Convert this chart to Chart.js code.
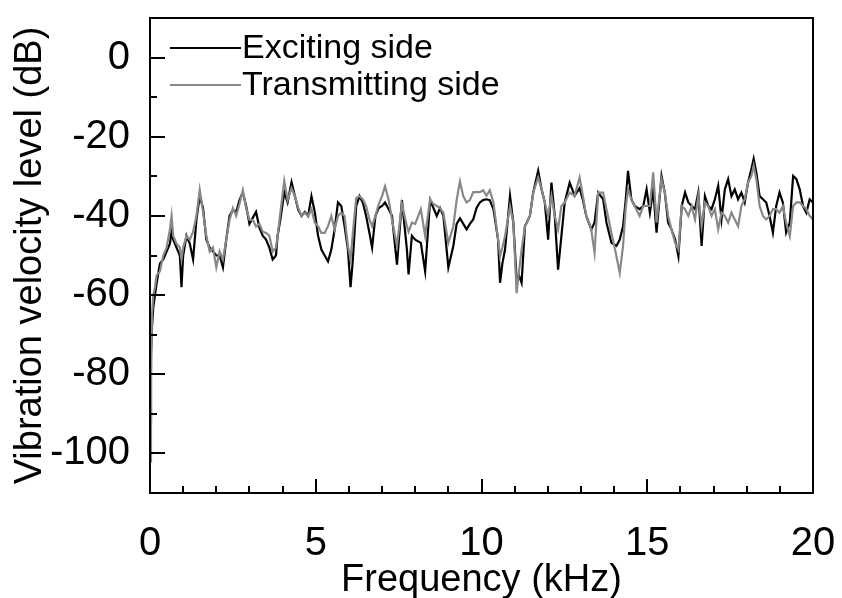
<!DOCTYPE html>
<html>
<head>
<meta charset="utf-8">
<script src="https://cdn.jsdelivr.net/npm/chart.js@4.4.1/dist/chart.umd.min.js"></script>
<style>
  html, body { margin: 0; padding: 0; background: #fff; }
  #wrap { width: 842px; height: 598px; }
</style>
</head>
<body>
<div id="wrap"><canvas id="spectrum" width="842" height="598"></canvas></div>
<script>
// frequency (kHz)
var freq = [
  0, 0.03, 0.06, 0.1, 0.15, 0.2, 0.3, 0.4, 0.5, 0.6, 0.65, 0.7, 0.8, 0.9, 0.95, 1.0,
  1.1, 1.2, 1.3, 1.4, 1.5, 1.6, 1.7, 1.8, 1.9, 2.0,
  2.1, 2.2, 2.3, 2.4, 2.5, 2.6, 2.7, 2.8, 2.9, 3.0,
  3.1, 3.2, 3.3, 3.4, 3.5, 3.6, 3.7, 3.8, 3.85, 3.95,
  4.05, 4.15, 4.27, 4.37, 4.47, 4.57, 4.67, 4.77, 4.87, 4.97,
  5.07, 5.17, 5.27, 5.37, 5.47, 5.57, 5.67, 5.77, 5.87, 5.97,
  6.05, 6.12, 6.22, 6.32, 6.42, 6.52, 6.62, 6.7, 6.8, 6.9,
  7.0, 7.09, 7.2, 7.3, 7.45, 7.6, 7.75, 7.8, 7.9, 8.0,
  8.17, 8.3, 8.45, 8.55, 8.65, 8.75, 8.85, 9.0, 9.15, 9.25,
  9.35, 9.45, 9.55, 9.65, 9.75, 9.85, 9.95, 10.05, 10.15, 10.25,
  10.36, 10.5, 10.56, 10.63, 10.71, 10.86, 10.96, 11.06, 11.13, 11.21,
  11.31, 11.46, 11.56, 11.71, 11.81, 11.91, 12.01, 12.11, 12.21, 12.31,
  12.41, 12.51, 12.66, 12.81, 12.96, 13.06, 13.16, 13.31, 13.41, 13.52,
  13.67, 13.77, 13.92, 14.07, 14.17, 14.27, 14.35, 14.42, 14.52, 14.62,
  14.77, 14.88, 14.98, 15.08, 15.18, 15.28, 15.43, 15.53, 15.63, 15.73,
  15.84, 15.94, 16.04, 16.14, 16.24, 16.34, 16.44, 16.54, 16.64, 16.74,
  16.84, 16.94, 17.04, 17.14, 17.24, 17.34, 17.44, 17.54, 17.64, 17.74,
  17.84, 17.94, 18.04, 18.14, 18.21, 18.29, 18.39, 18.49, 18.59, 18.69,
  18.79, 18.89, 18.99, 19.09, 19.19, 19.3, 19.4, 19.5, 19.6, 19.7,
  19.8, 19.9, 20.0
];

// Exciting side (dB)
var exciting = [
  -92, -75, -68, -63, -60, -57, -52, -51, -49, -47, -44, -46, -48, -50, -58, -50,
  -45, -47, -51, -41, -35, -38, -46, -48, -49, -50,
  -50, -53, -46, -40, -38.5, -39, -36, -34, -37.5, -42,
  -40.5, -39, -43, -45, -46, -48, -51, -50, -45, -40,
  -34, -36.6, -31.5, -35, -38.4, -40, -39, -40, -35, -39,
  -45, -48.5, -50, -51.5, -48.5, -43.4, -36.6, -37.5, -42.6, -48.5,
  -58, -51, -37.5, -35, -36.6, -40, -44.3, -48, -40, -38,
  -37.5, -36.6, -38.3, -40, -52.3, -36, -48.5, -54.8, -45, -46,
  -46.8, -54, -36, -38, -40, -38, -40, -53, -47.6, -42,
  -40.6, -42, -43.4, -42, -40.9, -38, -36.6, -36, -35.8, -36,
  -38.3, -46, -56.9, -52, -48.5, -34.9, -41.7, -56.2, -55, -56.9,
  -42.6, -40, -34.1, -28.6, -33.2, -36.6, -46, -31.6, -40, -53.6,
  -45.1, -36.6, -31.6, -34.9, -33, -36, -40, -43.4, -41.7, -34.1,
  -35.8, -41.7, -46.8, -47.6, -46, -42.6, -36, -28.6, -35.8, -37.5,
  -38.3, -37.5, -33.3, -39.2, -33.3, -44.2, -29.9, -34.1, -41.7, -43.4,
  -45.9, -50.2, -37.5, -34.1, -36.6, -37.5, -38.3, -34.1, -47.6, -35,
  -37.5, -38.3, -35.8, -32.4, -40.9, -33.3, -30.7, -35, -33.3, -35.8,
  -34.1, -36.6, -31.6, -28.2, -25.6, -29, -35, -35.8, -36.6, -40,
  -44.2, -37.5, -34.1, -36.6, -44.2, -41.7, -29.9, -30.7, -33.3, -37.5,
  -39.2, -35.8, -36.6
];

// Transmitting side (dB)
var transmitting = [
  -102, -80, -65, -60, -58, -55, -54, -50, -48, -43.5, -40, -45, -47, -48, -51, -48,
  -45, -46, -44, -40, -33.4, -39, -45, -49, -48, -53,
  -49, -51, -46, -41, -38, -40, -37, -33.5, -38, -41,
  -41, -42.7, -42, -44, -44.3, -45, -49, -48, -45, -38,
  -31.2, -36, -33, -35, -38, -40, -39.2, -40, -38.3, -41.7,
  -42.6, -44.3, -44.3, -42.6, -40, -43.4, -40, -39.2, -40, -47.6,
  -51, -44.3, -35.5, -35, -35.8, -37.5, -40.9, -42.6, -40, -37,
  -35, -32.5, -36, -41, -47.6, -37, -42.6, -44, -41.7, -42,
  -38.3, -45, -35.8, -37, -37.5, -38, -39.2, -46.8, -42.6, -36,
  -31.3, -35, -36.6, -36, -34, -34, -34, -33.5, -34.9, -33.5,
  -36.6, -46, -50.2, -48, -45.1, -37.5, -41.7, -59.5, -54, -48.5,
  -42.6, -40, -34.1, -30.3, -33.2, -36.6, -40, -34.9, -40, -43.4,
  -37.5, -36.6, -34.1, -34.9, -30.3, -35, -40, -43.4, -49.3, -34.1,
  -34.1, -38.3, -44.3, -50.2, -54.4, -47.6, -38, -33.2, -35.8, -37.5,
  -40, -37.5, -37.5, -37.5, -29, -41.7, -30.7, -34.1, -40, -43.4,
  -46.8, -48.5, -37.5, -38.3, -40, -37.5, -40.9, -35, -42.6, -36.6,
  -37.5, -40, -38.3, -43.4, -39.2, -40, -41.7, -39.2, -40.9, -42.6,
  -37.5, -35.8, -31.6, -29.9, -27.3, -30.7, -37.5, -40, -40.9, -40,
  -38.3, -38.3, -39.2, -37.5, -41.7, -45.1, -37.5, -36.6, -36.6, -37.5,
  -38.3, -40, -40.9
];

var xMajor = [0, 5, 10, 15, 20];
var yMajor = [-100, -80, -60, -40, -20, 0];
var seriesNames = ['Exciting side', 'Transmitting side'];

var FONT = "'Liberation Sans', Arial, sans-serif";

function pts(ys) {
  return freq.map(function (f, i) { return { x: f, y: ys[i] }; });
}

// frame, inward ticks and legend drawn over the plot
var framePlugin = {
  id: 'frame',
  afterDatasetsDraw: function (chart) {
    var c = chart.ctx, a = chart.chartArea;
    var xs = chart.scales.x, ys = chart.scales.y;
    c.save();
    c.strokeStyle = '#000';
    c.lineWidth = 2;
    c.strokeRect(a.left, a.top, a.right - a.left, a.bottom - a.top);
    c.beginPath();
    for (var v = 0; v <= 20; v += 1) {
      var px = Math.round(xs.getPixelForValue(v));
      var len = (v % 5 === 0) ? 14 : 7;
      c.moveTo(px, a.bottom);
      c.lineTo(px, a.bottom - len);
    }
    for (var w = -100; w <= 0; w += 10) {
      var py = Math.round(ys.getPixelForValue(w));
      var l2 = (w % 20 === 0) ? 15 : 7;
      c.moveTo(a.left, py);
      c.lineTo(a.left + l2, py);
    }
    c.stroke();

    // legend
    c.font = '34px ' + FONT;
    c.textBaseline = 'middle';
    c.textAlign = 'left';
    var rows = [48, 85];
    chart.data.datasets.forEach(function (ds, i) {
      c.strokeStyle = ds.borderColor;
      c.lineWidth = 2;
      c.beginPath();
      c.moveTo(170, rows[i]);
      c.lineTo(241, rows[i]);
      c.stroke();
      c.fillStyle = '#000';
      c.fillText(ds.label, 242, rows[i] + 1);
    });
    c.restore();
  }
};

var ctx = document.getElementById('spectrum');
var chart = new Chart(ctx, {
  type: 'line',
  data: {
    datasets: [
      {
        label: seriesNames[0],
        data: pts(exciting),
        borderColor: '#000000',
        borderWidth: 2.2,
        pointRadius: 0,
        tension: 0,
        order: 1,
      },
      {
        label: seriesNames[1],
        data: pts(transmitting),
        borderColor: '#888888',
        borderWidth: 2.2,
        pointRadius: 0,
        tension: 0,
        order: 0,
      },
    ],
  },
  options: {
    responsive: false,
    animation: false,
    devicePixelRatio: 1,
    layout: { padding: { left: 0, right: 29, top: 18, bottom: 0 } },
    plugins: {
      legend: { display: false },
      tooltip: { enabled: false },
    },
    scales: {
      x: {
        type: 'linear',
        min: 0,
        max: 20,
        afterBuildTicks: function (s) { s.ticks = xMajor.map(function (v) { return { value: v }; }); },
        afterFit: function (s) { s.height = 105; s.paddingLeft = 0; s.paddingRight = 0; },
        grid: { display: false, drawTicks: false },
        border: { display: false },
        ticks: { color: '#000', padding: 27, maxRotation: 0, font: { family: FONT, size: 40 } },
        title: {
          display: true,
          text: 'Frequency (kHz)',
          color: '#000',
          font: { family: FONT, size: 38, lineHeight: 0.92 },
          padding: { top: 0, bottom: 0 },
        },
      },
      y: {
        type: 'linear',
        min: -110,
        max: 10,
        afterBuildTicks: function (s) { s.ticks = yMajor.map(function (v) { return { value: v }; }); },
        afterFit: function (s) { s.width = 150; s.paddingTop = 0; s.paddingBottom = 0; },
        grid: { display: false, drawTicks: false },
        border: { display: false },
        ticks: { color: '#000', padding: 20, font: { family: FONT, size: 40 } },
        title: {
          display: true,
          text: 'Vibration velocity level (dB)',
          color: '#000',
          font: { family: FONT, size: 38 },
          padding: { top: 8, bottom: 0 },
        },
      },
    },
  },
  plugins: [framePlugin],
});
</script>
</body>
</html>
